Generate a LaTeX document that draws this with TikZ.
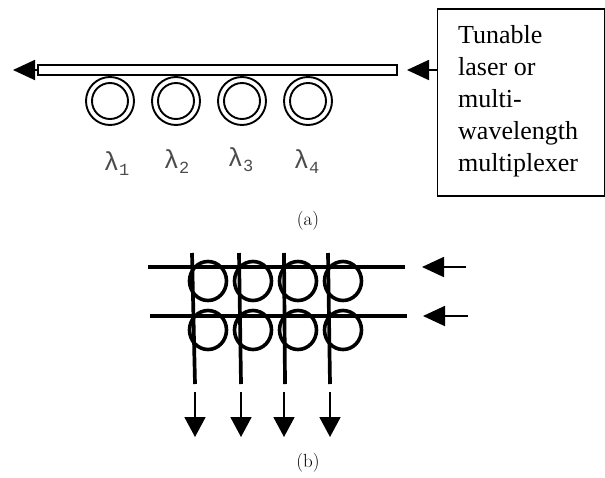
\documentclass[tikz,border=0pt]{standalone}
\usepackage{fontspec}
\newfontfamily\boxfont{Liberation Serif}
\newfontfamily\lamfont{Liberation Mono}
\usetikzlibrary{arrows.meta,shapes.geometric}
\newcommand{\lamlabel}[1]{{\fontsize{26}{26}\selectfont λ}\raisebox{-5pt}{\fontsize{17}{17}\selectfont #1}}
\tikzset{
  px/.style={x=1pt,y=-1pt},
  thinarrow/.style={line width=1.8pt,-{Triangle[length=22pt,width=20pt]}},
  downarrow/.style={line width=1.8pt,-{Triangle[length=20pt,width=21pt]}},
  ringouter/.style={circle,draw,line width=1.9pt,minimum size=48pt,inner sep=0pt},
  ringinner/.style={circle,draw,line width=1.9pt,minimum size=36pt,inner sep=0pt},
  lam/.style={text=black!70,font=\lamfont,inner sep=0pt},
  captext/.style={font=\fontsize{19}{19}\selectfont,inner sep=0pt},
  wg/.style={line width=3.7pt},
  mr/.style={draw,ellipse,line width=3.6pt,minimum width=37pt,minimum height=39pt,inner sep=0pt},
}
\begin{document}
\begin{tikzpicture}[px]
\useasboundingbox (0,0) rectangle (605,477);
% (a)
\node[draw,line width=1.9pt,minimum width=359pt,minimum height=10pt,inner sep=0pt] (bus) at (217.5,70) {};
\node[draw,line width=1.9pt,minimum width=167pt,minimum height=187pt,inner sep=0pt,
      anchor=north west] (src) at (436.5,8) {};
\node[anchor=north west,align=left,inner sep=0pt,font=\boxfont\fontsize{26}{32}\selectfont] (srctext) at (458,25.5)
  {Tunable\\laser or\\multi-\\wavelength\\multiplexer};
\coordinate (outtip) at (13,70);
\draw[thinarrow] (bus.west) -- (outtip);
\coordinate (intip) at (407,70);
\draw[thinarrow] (src.west |- intip) -- (intip);
\foreach \n/\x in {1/110,2/176,3/242,4/308}{
  \node[ringouter] (ro\n) at (\x,101) {};
  \node[ringinner] (ri\n) at (\x,101) {};
}
\node[lam] (l1) at (116.5,164) {\lamlabel{1}};
\node[lam] (l2) at (176.5,162) {\lamlabel{2}};
\node[lam] (l3) at (240.5,160) {\lamlabel{3}};
\node[lam] (l4) at (306.5,162) {\lamlabel{4}};
\node[captext] (capa) at (308,221) {(a)};
% (b)
\foreach \n/\x in {1/208,2/253,3/298,4/343}{
  \node[mr] (ra\n) at (\x,281) {};
  \node[mr] (rb\n) at (\x,330) {};
}
\coordinate (h1a) at (148,267); \coordinate (h1b) at (405,267);
\coordinate (h2a) at (150,316); \coordinate (h2b) at (407,316);
\draw[wg] (h1a) -- (h1b);
\draw[wg] (h2a) -- (h2b);
\foreach \n/\xa/\xb/\xc in {1/192/195/195,2/239/241/241,3/284/285/284,4/328/330/330}{
  \coordinate (vt\n) at (\xa,253);
  \coordinate (vb\n) at (\xb,384);
  \draw[wg] (vt\n) -- (vb\n);
  \coordinate (as\n) at (\xc,392);
  \coordinate (at\n) at (\xc,437);
  \draw[downarrow] (as\n) -- (at\n);
}
\coordinate (a1s) at (466,267); \coordinate (a1t) at (422,267);
\coordinate (a2s) at (468,316); \coordinate (a2t) at (423,316);
\draw[thinarrow] (a1s) -- (a1t);
\draw[thinarrow] (a2s) -- (a2t);
\node[captext] (capb) at (308,463) {(b)};
\end{tikzpicture}
\end{document}
